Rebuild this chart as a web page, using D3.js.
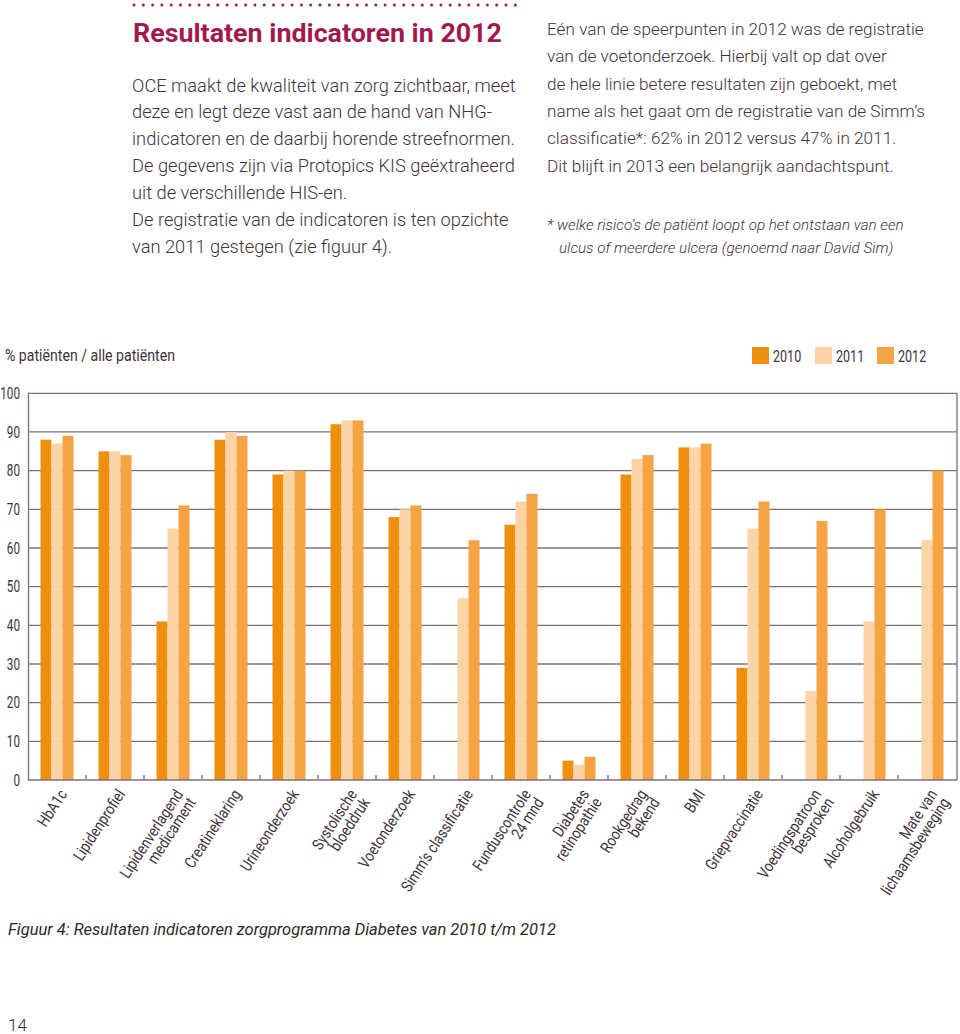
<!DOCTYPE html>
<html>
<head>
<meta charset="utf-8">
<script src="https://cdn.jsdelivr.net/npm/d3@7"></script>
<style>
  html, body { margin: 0; padding: 0; background: #fff; }
  svg { display: block; }
  .cond { font-family: "Roboto", "Liberation Sans", sans-serif; }
  .body { font-family: "Roboto", "Liberation Sans", sans-serif; font-weight: 300; }
</style>
</head>
<body>
<svg id="chart" width="960" height="1034"></svg>
<script>
// ---- data ----
const categories = [
  "HbA1c", "Lipidenprofiel", "Lipidenverlagend\nmedicament", "Creatineklaring",
  "Urineonderzoek", "Systolische\nbloeddruk", "Voetonderzoek", "Simm’s classificatie",
  "Funduscontrole\n24 mnd", "Diabetes\nretinopathie", "Rookgedrag\nbekend", "BMI",
  "Griepvaccinatie", "Voedingspatroon\nbesproken", "Alcoholgebruik", "Mate van\nlichaamsbeweging"
];
const years = ["2010", "2011", "2012"];
const values2010 = [88, 85, 41, 88, 79, 92, 68, null, 66, 5, 79, 86, 29, null, null, null];
const values2011 = [87, 85, 65, 90, 80, 93, 70, 47, 72, 4, 83, 86, 65, 23, 41, 62];
const values2012 = [89, 84, 71, 89, 80, 93, 71, 62, 74, 6, 84, 87, 72, 67, 70, 80];
const yTicks = [0, 10, 20, 30, 40, 50, 60, 70, 80, 90, 100];
const colors = ["#ee8f10", "#fbd4a6", "#f4a442"];

const leftText = [
  "OCE maakt de kwaliteit van zorg zichtbaar, meet",
  "deze en legt deze vast aan de hand van NHG-",
  "indicatoren en de daarbij horende streefnormen.",
  "De gegevens zijn via Protopics KIS geëxtraheerd",
  "uit de verschillende HIS-en.",
  "De registratie van de indicatoren is ten opzichte",
  "van 2011 gestegen (zie figuur 4)."
];
const rightText = [
  "Eén van de speerpunten in 2012 was de registratie",
  "van de voetonderzoek. Hierbij valt op dat over",
  "de hele linie betere resultaten zijn geboekt, met",
  "name als het gaat om de registratie van de Simm’s",
  "classificatie*: 62% in 2012 versus 47% in 2011.",
  "Dit blijft in 2013 een belangrijk aandachtspunt."
];
const footnote = [
  "* welke risico’s de patiënt loopt op het ontstaan van een",
  "ulcus of meerdere ulcera (genoemd naar David Sim)"
];

const series = years.map((yr, i) => ({
  year: yr,
  color: colors[i],
  values: [values2010, values2011, values2012][i]
}));

// condense text horizontally (narrow typeface look)
function condense(sel, factor) {
  sel.each(function () {
    const w = this.getComputedTextLength();
    d3.select(this).attr("textLength", w * factor).attr("lengthAdjust", "spacingAndGlyphs");
  });
}
function fitTo(sel, width) {
  sel.attr("textLength", width).attr("lengthAdjust", "spacingAndGlyphs");
}

// ---- drawing ----
const svg = d3.select("#chart");
const textCol = "#3f3140";
const gridCol = "#7d6e7c";
const crimson = "#a11a4f";

// dotted rule + title
svg.append("line")
  .attr("x1", 134).attr("x2", 520).attr("y1", 5).attr("y2", 5)
  .attr("stroke", crimson).attr("stroke-width", 3)
  .attr("stroke-linecap", "round").attr("stroke-dasharray", "0 9.3");
svg.append("text").attr("class", "cond")
  .attr("x", 133).attr("y", 42)
  .attr("font-size", 25).attr("font-weight", "bold")
  .attr("fill", crimson)
  .text("Resultaten indicatoren in 2012")
  .call(fitTo, 369);

// paragraphs
svg.append("g").selectAll("text").data(leftText).join("text")
  .attr("class", "body")
  .attr("x", 132).attr("y", (d, i) => 91.5 + i * 26.9)
  .attr("font-size", 18.3).attr("fill", textCol)
  .text(d => d);
svg.append("g").selectAll("text").data(rightText).join("text")
  .attr("class", "body")
  .attr("x", 547).attr("y", (d, i) => 35 + i * 27.3)
  .attr("font-size", 17.2).attr("fill", textCol)
  .text(d => d);
svg.append("g").selectAll("text").data(footnote).join("text")
  .attr("class", "body")
  .attr("x", (d, i) => i === 0 ? 547 : 559).attr("y", (d, i) => 230 + i * 23)
  .attr("font-size", 15.2).attr("font-style", "italic").attr("fill", textCol)
  .text(d => d);

// scales
const x0 = 28, x1 = 956, yTop = 393.3, yBot = 780;
const x = d3.scaleBand().domain(categories).range([x0, x1]).paddingInner(0.431).paddingOuter(0.2155);
const xs = d3.scaleBand().domain(years).range([0, x.bandwidth()]);
const y = d3.scaleLinear().domain([0, 100]).range([yBot, yTop]);

// y axis title and legend
svg.append("text").attr("class", "cond")
  .attr("x", 5).attr("y", 361).attr("font-size", 17).attr("fill", textCol)
  .text("% patiënten / alle patiënten")
  .call(fitTo, 170);

const legend = svg.append("g").selectAll("g").data(series).join("g")
  .attr("transform", (d, i) => `translate(${[752, 815, 877][i]},347)`);
legend.append("rect").attr("width", 17).attr("height", 17).attr("fill", d => d.color);
legend.append("text").attr("class", "cond")
  .attr("x", 21).attr("y", 14.5).attr("font-size", 16.5).attr("fill", textCol)
  .text(d => d.year)
  .call(condense, 0.76);

// gridlines
svg.append("g").selectAll("line").data(yTicks.filter(t => t > 0)).join("line")
  .attr("x1", x0).attr("x2", 957).attr("y1", d => y(d)).attr("y2", d => y(d))
  .attr("stroke", gridCol).attr("stroke-width", 1.3);
// right frame vertical
svg.append("line").attr("x1", 957).attr("x2", 957).attr("y1", y(100)).attr("y2", y(0))
  .attr("stroke", gridCol).attr("stroke-width", 1.3);

// bars
const groups = svg.append("g").selectAll("g").data(series).join("g")
  .attr("fill", d => d.color);
groups.selectAll("rect")
  .data(s => s.values.map((v, i) => ({ cat: categories[i], year: s.year, v })).filter(d => d.v != null))
  .join("rect")
  .attr("x", d => x(d.cat) + xs(d.year))
  .attr("width", xs.bandwidth())
  .attr("y", d => y(d.v))
  .attr("height", d => y(0) - y(d.v));

// y axis
const yAxis = svg.append("g").attr("transform", `translate(${x0},0)`)
  .call(d3.axisLeft(y).tickValues(yTicks).tickSize(0).tickPadding(8))
  .attr("font-family", "Roboto, sans-serif").attr("font-size", 16);
yAxis.select(".domain").attr("stroke", gridCol).attr("stroke-width", 1.3);
yAxis.selectAll("text").attr("fill", textCol).call(condense, 0.73);

// x axis: baseline + ticks between groups
svg.append("line").attr("x1", x0).attr("x2", 957).attr("y1", yBot).attr("y2", yBot)
  .attr("stroke", gridCol).attr("stroke-width", 1.3);
svg.append("g").selectAll("line").data(categories.slice(1)).join("line")
  .attr("x1", d => x(d) - x.step() * x.paddingInner() / 2)
  .attr("x2", d => x(d) - x.step() * x.paddingInner() / 2)
  .attr("y1", yBot).attr("y2", yBot - 5)
  .attr("stroke", gridCol).attr("stroke-width", 1.3);

// x labels
const lab = svg.append("g").selectAll("text").data(categories).join("text")
  .attr("class", "cond")
  .attr("font-size", 16).attr("fill", textCol)
  .attr("text-anchor", "end")
  .attr("transform", d => `translate(${x(d) + x.bandwidth() / 2 + 6},${yBot + 11}) rotate(-57)`);
lab.selectAll("tspan").data(d => d.split("\n")).join("tspan")
  .attr("x", 0).attr("dy", (d, i) => i === 0 ? "0.35em" : "0.95em")
  .text(d => d)
  .call(condense, 0.84);

// caption + page number
svg.append("text").attr("class", "cond")
  .attr("x", 8).attr("y", 935).attr("font-size", 16.5).attr("font-style", "italic").attr("fill", "#2a2a2a")
  .text("Figuur 4: Resultaten indicatoren zorgprogramma Diabetes van 2010 t/m 2012")
  .call(fitTo, 548);
svg.append("text").attr("class", "body")
  .attr("x", 8).attr("y", 1031).attr("font-size", 17).attr("fill", "#2a2a2a")
  .text("14");
</script>
</body>
</html>
